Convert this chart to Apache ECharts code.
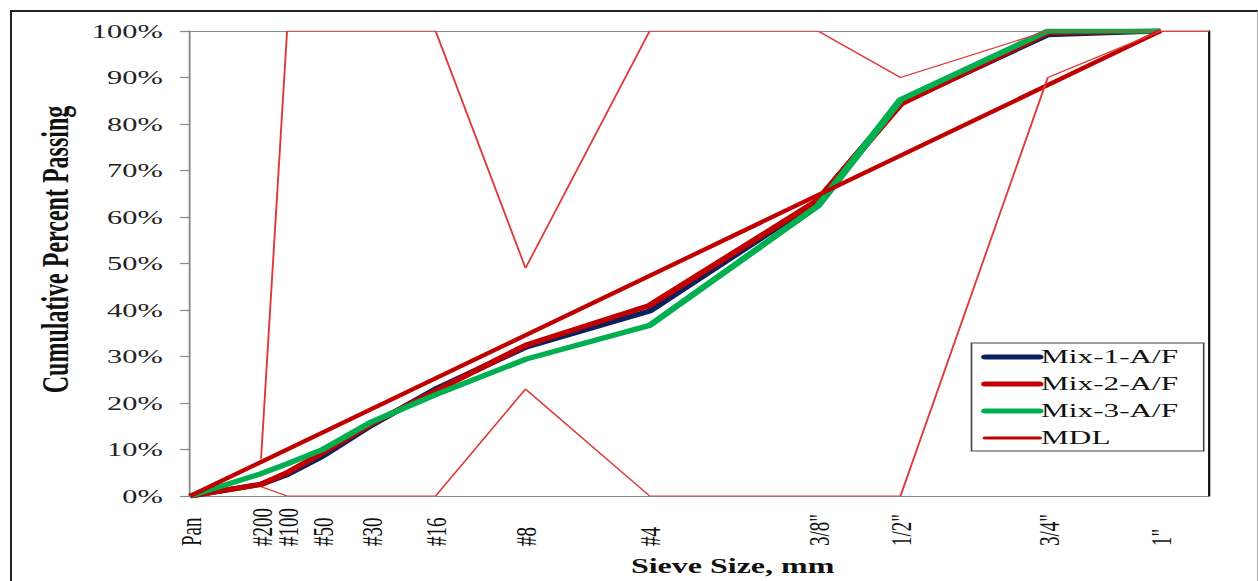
<!DOCTYPE html>
<html><head><meta charset="utf-8">
<script src="https://cdn.jsdelivr.net/npm/echarts@6/dist/echarts.min.js"></script>
<style>
html,body{margin:0;padding:0;background:#fff;overflow:hidden;width:1258px;height:581px;}
#frame{position:absolute;left:10px;top:10px;width:1248px;height:620px;border-left:2px solid #222;border-top:2px solid #222;border-right:1px solid #aaa;box-sizing:border-box;z-index:0;}
#chart{position:absolute;left:0;top:0;width:786px;height:581px;transform:scaleX(1.6005);transform-origin:0 0;z-index:1;}
</style></head><body>
<div id="frame"></div>
<div id="chart"></div>
<script>
// ---- data ----
const sieveLabels   = ['Pan', '#200', '#100', '#50', '#30', '#16', '#8', '#4', '3/8"', '1/2"', '3/4"', '1"'];
const sieveSizesMm  = [0, 0.075, 0.15, 0.3, 0.6, 1.18, 2.36, 4.75, 9.5, 12.5, 19, 25];
const mix1 = [0, 2.5, 4.6, 8.6, 15.2, 23.0, 32.0, 39.8, 63.5, 84.5, 99.2, 100];
const mix2 = [0, 2.5, 5.0, 9.3, 15.5, 22.6, 32.4, 41.0, 63.6, 84.3, 99.6, 100];
const mix3 = [0, 4.8, 6.9, 10.0, 15.9, 21.8, 29.4, 36.7, 62.4, 85.2, 100, 100];
const mdlSizesMm = [0, 25];
const mdlValues  = [0, 100];
const controlSizesMm = [0.075, 0.15, 0.3, 0.6, 1.18, 2.36, 4.75, 9.5, 12.5, 19, 25, 27.8];
const upperControl   = [8, 100, 100, 100, 100, 49, 100, 100, 90, 100, 100, 100];
const lowerControl   = [2, 0, 0, 0, 0, 23, 0, 0, 0, 90, 100, 100];
const axisMaxMm = 27.8;
const gradationPower = 0.45;
const yTickStep = 10;

// ---- helpers ----
const pos = s => Math.pow(s, gradationPower);
const pairs = (sizes, vals) => sizes.map((s, i) => [pos(s), vals[i]]);
const labelPositions = sieveSizesMm.map(pos);
function labelFor(v) {
  let best = 0, d = Infinity;
  labelPositions.forEach((p, i) => { const dd = Math.abs(p - v); if (dd < d) { d = dd; best = i; } });
  return sieveLabels[best];
}

const serif = "'Liberation Serif', 'Times New Roman', serif";
const chart = echarts.init(document.getElementById('chart'), null, {renderer: 'svg'});

const option = {
  animation: false,
  backgroundColor: 'transparent',
  grid: {left: 118.7, right: 31.2, top: 31, bottom: 84, containLabel: false},
  legend: {
    data: [
      {name: 'Mix-1-A/F', lineStyle: {width: 5, cap: 'round', color: '#0a2160'}},
      {name: 'Mix-2-A/F', lineStyle: {width: 5, cap: 'round', color: '#c00000'}},
      {name: 'Mix-3-A/F', lineStyle: {width: 5, cap: 'round', color: '#00b050'}},
      {name: 'MDL', lineStyle: {width: 3.2, cap: 'round', color: '#c00000'}}
    ],
    orient: 'vertical', left: 607, top: 343,
    itemWidth: 34, itemHeight: 8, itemGap: 7,
    itemStyle: {opacity: 0},
    borderColor: '#444', borderWidth: 1, borderRadius: 0,
    padding: [4, 16, 3, 6],
    backgroundColor: '#fff',
    textStyle: {fontFamily: serif, fontSize: 19.5, color: '#111', padding: [0, 0, 0, -4], lineHeight: 20}
  },
  xAxis: [{
    type: 'value', min: 0, max: pos(axisMaxMm),
    name: 'Sieve Size, mm', nameLocation: 'middle', nameGap: 60,
    nameTextStyle: {fontFamily: serif, fontWeight: 'bold', fontSize: 20, color: '#111', padding: [0, 0, 0, 42]},
    axisLine: {show: true, lineStyle: {color: '#8a8a8a', width: 1.2}},
    axisTick: {show: false},
    splitLine: {show: false},
    axisLabel: {
      customValues: labelPositions,
      formatter: v => labelFor(v),
      rotate: 90, align: 'left', verticalAlign: 'middle', margin: 50,
      hideOverlap: false, showMinLabel: true, showMaxLabel: true,
      fontFamily: serif, fontSize: 19, color: '#111'
    }
  }, {
    type: 'value', position: 'top', min: 0, max: pos(axisMaxMm),
    axisLine: {show: true, onZero: false, lineStyle: {color: '#8a8a8a', width: 1.2}},
    axisTick: {show: false}, axisLabel: {show: false}, splitLine: {show: false}
  }],
  yAxis: [{
    type: 'value', min: 0, max: 100, interval: yTickStep,
    name: 'Cumulative Percent Passing', nameLocation: 'middle', nameGap: 59,
    nameTextStyle: {fontFamily: serif, fontWeight: 'bold', fontSize: 24, color: '#111', padding: [0, 0, 0, 28]},
    axisLine: {show: true, lineStyle: {color: '#8a8a8a', width: 1.2}},
    axisTick: {show: true, length: 6.2, lineStyle: {color: '#8a8a8a', width: 1.2}},
    splitLine: {show: false},
    axisLabel: {formatter: '{value}%', margin: 17, fontFamily: serif, fontSize: 19, color: '#222'}
  }, {
    type: 'value', position: 'right', min: 0, max: 100,
    axisLine: {show: true, onZero: false, lineStyle: {color: '#111', width: 1.4}},
    axisTick: {show: false}, axisLabel: {show: false}, splitLine: {show: false}
  }],
  series: [
    {name: 'Mix-1-A/F', type: 'line', data: pairs(sieveSizesMm, mix1), symbol: 'none',
     lineStyle: {color: '#0a2160', width: 5}, itemStyle: {color: '#0a2160'}},
    {name: 'Mix-2-A/F', type: 'line', data: pairs(sieveSizesMm, mix2), symbol: 'none',
     lineStyle: {color: '#c00000', width: 5}, itemStyle: {color: '#c00000'}},
    {name: 'Mix-3-A/F', type: 'line', data: pairs(sieveSizesMm, mix3), symbol: 'none',
     lineStyle: {color: '#00b050', width: 5}, itemStyle: {color: '#00b050'}},
    {name: 'MDL', type: 'line', data: pairs(mdlSizesMm, mdlValues), symbol: 'none',
     lineStyle: {color: '#c00000', width: 3.8}, itemStyle: {color: '#c00000'}},
    {name: 'Upper control', type: 'line', data: pairs(controlSizesMm, upperControl), symbol: 'none',
     lineStyle: {color: '#de3a3a', width: 1.2}},
    {name: 'Lower control', type: 'line', data: pairs(controlSizesMm, lowerControl), symbol: 'none',
     lineStyle: {color: '#de3a3a', width: 1.2}}
  ]
};
chart.setOption(option);
</script>
</body></html>
